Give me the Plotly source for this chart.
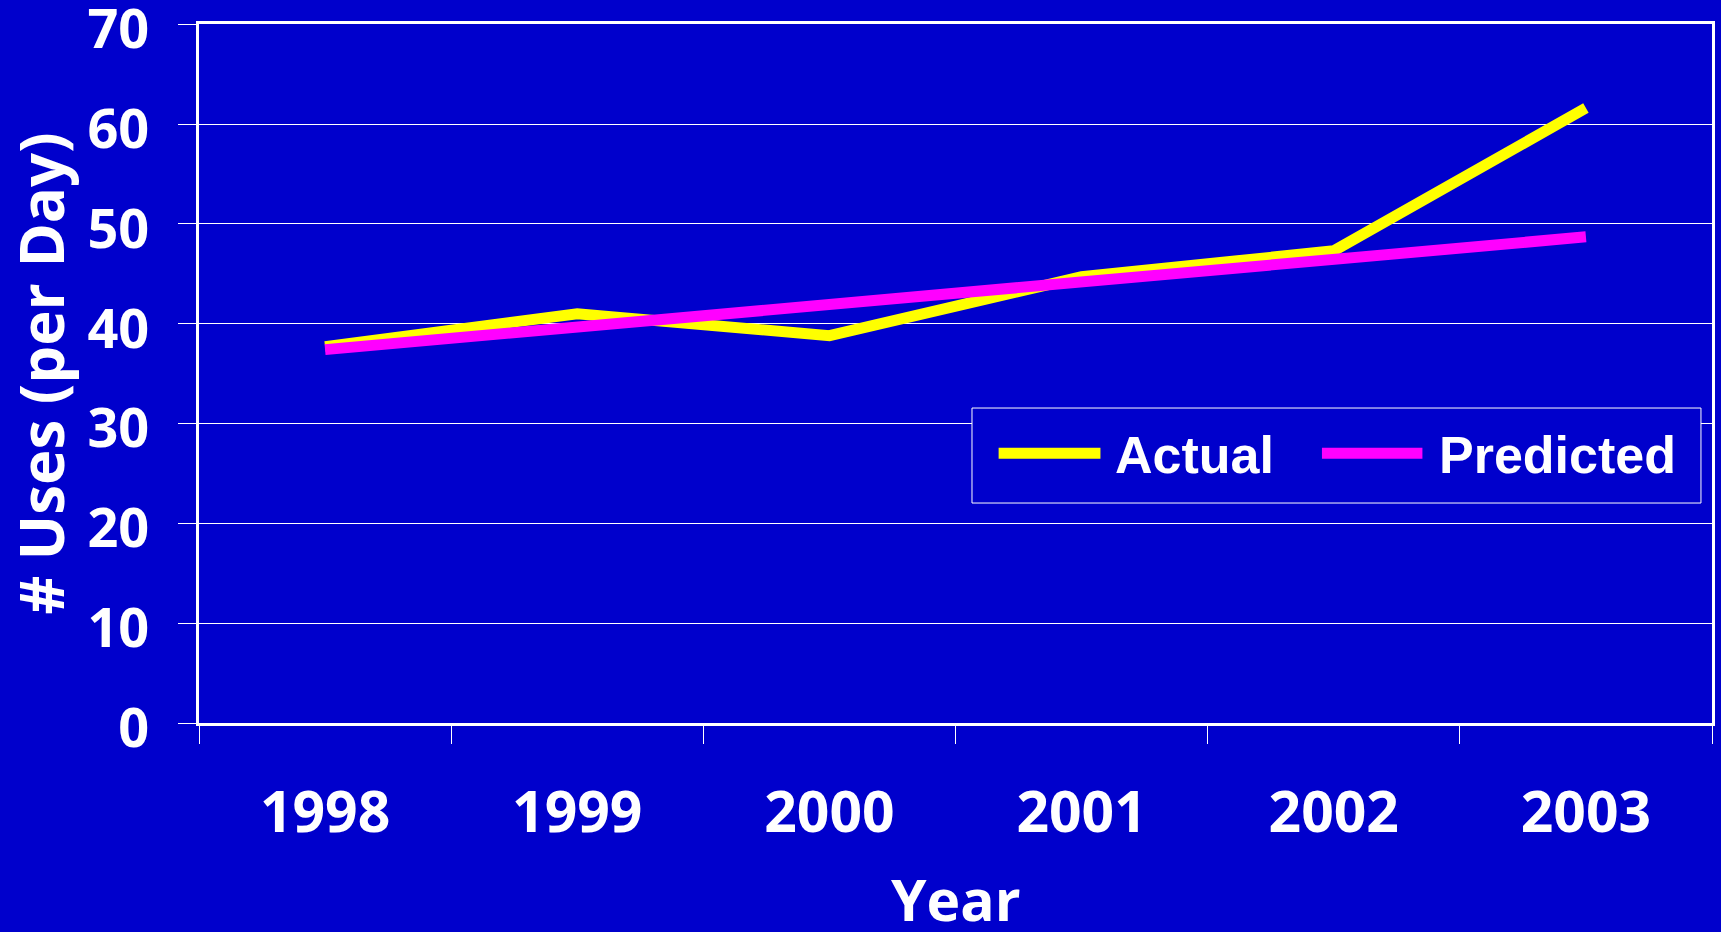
import plotly.graph_objects as go

years = ["1998", "1999", "2000", "2001", "2002", "2003"]
actual = [37.7, 41.0, 38.8, 44.7, 47.3, 61.6]
predicted = [37.4, 39.7, 41.9, 44.2, 46.4, 48.7]
series_names = ["Actual", "Predicted"]
series_colors = ["#FFFF00", "#FF00FF"]
y_ticks = [0, 10, 20, 30, 40, 50, 60, 70]
x_title = "Year"
y_title = "# Uses (per Day)"

BG = "#0000CC"
W = "white"
TICKFONT = dict(family="Open Sans, DejaVu Sans, sans-serif", size=54, color=W, weight="bold")
LEGFONT = dict(family="Liberation Sans, Arial, sans-serif", size=52, color=W, weight="bold")

fig = go.Figure()
for name, vals, col in zip(series_names, [actual, predicted], series_colors):
    fig.add_trace(go.Scatter(x=years, y=vals, mode="lines", name=name,
                             line=dict(color=col, width=11), showlegend=False))

# custom legend (box, line samples, labels) in paper coordinates
fig.add_shape(type="rect", xref="paper", yref="paper", x0=0.5109, x1=0.9927, y0=0.3147, y1=0.4506,
              line=dict(color=W, width=1), fillcolor=BG, layer="above")
leg_x = [(0.5285, 0.5958, 0.6038), (0.7422, 0.8086, 0.8182)]
for (x0, x1, xt), name, col in zip(leg_x, series_names, series_colors):
    fig.add_shape(type="line", xref="paper", yref="paper", x0=x0, x1=x1, y0=0.3858, y1=0.3858,
                  line=dict(color=col, width=11), layer="above")
    fig.add_annotation(xref="paper", yref="paper", x=xt, y=0.384, text=name, showarrow=False,
                       xanchor="left", yanchor="middle", font=LEGFONT)

# x-axis title placed below the tick labels
fig.add_annotation(xref="paper", yref="paper", x=0.5, y=-0.252, text=x_title, showarrow=False,
                   xanchor="center", yanchor="middle", font=dict(TICKFONT, size=57))

fig.update_layout(
    width=1721, height=932,
    paper_bgcolor=BG, plot_bgcolor=BG,
    margin=dict(l=199, r=9, t=24, b=209),
    showlegend=False,
    xaxis=dict(
        type="category", tickson="boundaries", range=[-0.5, 5.5], automargin=False,
        showgrid=False, showline=True, linecolor=W, linewidth=3, mirror=True,
        ticks="outside", ticklen=18, tickwidth=1, tickcolor=W,
        tickfont=dict(TICKFONT, size=57), ticklabelstandoff=38,
    ),
    yaxis=dict(
        range=[0, 70.02], tickvals=y_ticks, automargin="left",
        showgrid=True, gridcolor=W, gridwidth=1,
        showline=True, linecolor=W, linewidth=3, mirror=True,
        ticks="outside", ticklen=18, tickwidth=1, tickcolor=W,
        tickfont=TICKFONT, ticklabelstandoff=18, ticklabelshift=5,
        ticklabeloverflow="allow",
        zeroline=False,
        title=dict(text=y_title, font=dict(TICKFONT, size=60), standoff=16),
    ),
)

fig.write_html("out.html", config={"displayModeBar": False},
               post_script="document.body.style.margin='0';")
